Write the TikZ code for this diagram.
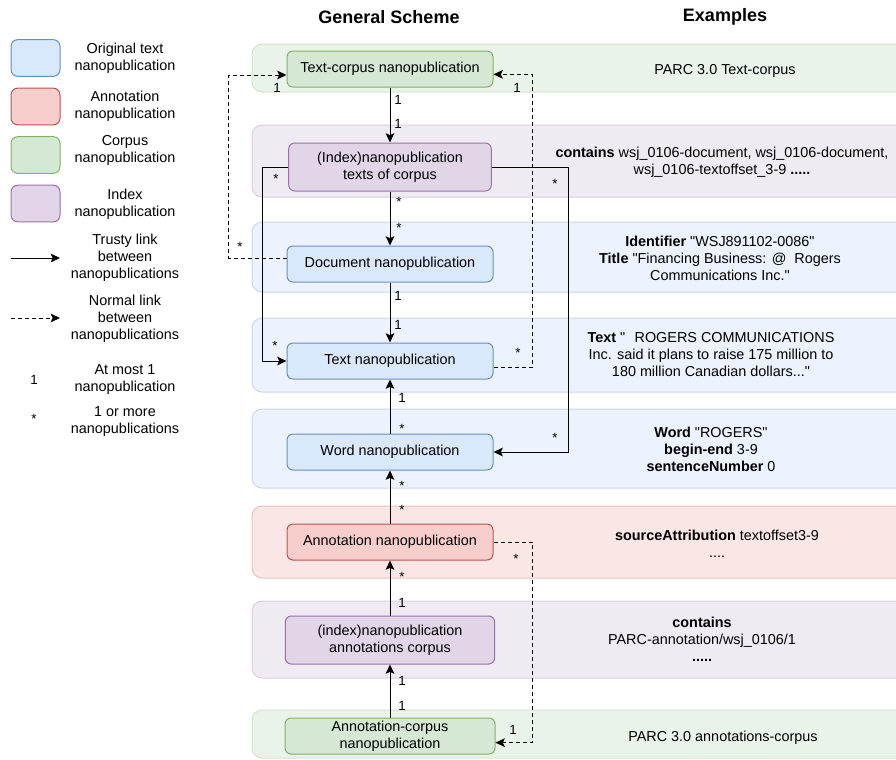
\documentclass[tikz,border=0pt]{standalone}
\usepackage{fontspec}
\setmainfont{Liberation Sans}[Ligatures=TeXOff]
\usetikzlibrary{arrows.meta}
\definecolor{bF}{HTML}{DAE8FC}\definecolor{bD}{HTML}{6C8EBF}
\definecolor{rF}{HTML}{F8CECC}\definecolor{rD}{HTML}{B85450}
\definecolor{gF}{HTML}{D5E8D4}\definecolor{gD}{HTML}{82B366}
\definecolor{pF}{HTML}{E1D5E7}\definecolor{pD}{HTML}{9673A6}
\begin{document}
\begin{tikzpicture}[x=0.75pt,y=-0.75pt,
  font=\fontsize{10.8}{12.75}\selectfont,
  nbox/.style={draw, rounded corners=4.5pt, line width=0.75pt, align=center, inner sep=0pt, minimum width=154.5pt, minimum height=27pt},
  nboxt/.style={nbox, minimum height=36pt},
  lbox/.style={draw, rounded corners=5pt, line width=0.75pt, minimum width=36.75pt, minimum height=27.5pt, inner sep=0pt},
  band/.style={rounded corners=7.5pt, line width=0.75pt},
  bluen/.style={fill=bF, draw=bD}, redn/.style={fill=rF, draw=rD},
  greenn/.style={fill=gF, draw=gD}, purplen/.style={fill=pF, draw=pD},
  blueb/.style={band, fill=bF!50!white, draw=bD!35!white},
  redb/.style={band, fill=rF!50!white, draw=rD!35!white},
  greenb/.style={band, fill=gF!50!white, draw=gD!35!white},
  purpleb/.style={band, fill=pF!50!white, draw=pD!35!white},
  txt/.style={align=center, inner sep=0pt},
  lbl/.style={inner sep=0pt, font=\fontsize{10}{12}\selectfont},
  trusty/.style={line width=0.75pt, -{Stealth[length=7pt,width=6.5pt,inset=1.5pt]}},
  normal/.style={trusty, dash pattern=on 3pt off 2.25pt}
]
\useasboundingbox (0,0) rectangle (896,760);
\clip (0,0) rectangle (896,760);

% titles
\node[txt, font=\bfseries\fontsize{13.5}{15}\selectfont] (t1) at (389,17) {General Scheme};
\node[txt, font=\bfseries\fontsize{13.5}{15}\selectfont] (t2) at (725,17) {Examples};

% legend
\node[lbox, bluen] (lg1) at (35.5,58) {};
\node[txt] (lg1t) at (125,58) {Original text\\nanopublication};
\node[lbox, redn] (lg2) at (35.5,106.5) {};
\node[txt] (lg2t) at (125,106.5) {Annotation\\nanopublication};
\node[lbox, greenn] (lg3) at (35.5,155) {};
\node[txt] (lg3t) at (125,150) {Corpus\\nanopublication};
\node[lbox, purplen] (lg4) at (35.5,203.5) {};
\node[txt] (lg4t) at (125,204) {Index\\nanopublication};
\coordinate (la1) at (11,258); \coordinate (la2) at (60,258);
\draw[trusty] (la1) -- (la2);
\node[txt] (lg5t) at (125,258) {Trusty link\\between\\nanopublications};
\coordinate (lb1) at (11,318); \coordinate (lb2) at (60,318);
\draw[normal] (lb1) -- (lb2);
\node[txt] (lg6t) at (125,319) {Normal link\\between\\nanopublications};
\node[lbl] (lg7) at (34,380) {1};
\node[txt] (lg7t) at (125,380) {At most 1\\nanopublication};
\node[lbl] (lg8) at (34,419) {*};
\node[txt] (lg8t) at (125,422) {1 or more\\nanopublications};

% bands
\draw[greenb]  (252,44)  rectangle (915,92);
\draw[purpleb] (252,125) rectangle (915,197);
\draw[blueb]   (252,222) rectangle (915,292);
\draw[blueb]   (252,318) rectangle (915,392);
\draw[blueb]   (252,409) rectangle (915,488);
\draw[redb]    (252,506) rectangle (915,578);
\draw[purpleb] (252,601) rectangle (915,678);
\draw[greenb]  (252,710) rectangle (915,758);

% examples
\node[txt] (e1) at (725,71) {PARC 3.0 Text-corpus};
\node[txt] (e2) at (722,162) {\textbf{contains} wsj\_0106-document, wsj\_0106-document,\\wsj\_0106-textoffset\_3-9 \textbf{.....}};
\node[txt] (e3) at (720,258) {\textbf{Identifier} "WSJ891102-0086"\\\textbf{Title} "Financing Business: @\ \ Rogers\\Communications Inc."};
\node[txt] (e4) at (711,355) {\textbf{Text} "\hspace{7pt}ROGERS COMMUNICATIONS\\Inc. said it plans to raise 175 million to\\180 million Canadian dollars..."};
\node[txt] (e5) at (711,449) {\textbf{Word} "ROGERS"\\\textbf{begin-end} 3-9\\\textbf{sentenceNumber} 0};
\node[txt] (e6) at (717,544) {\textbf{sourceAttribution} textoffset3-9\\....};
\node[txt] (e7) at (702,639) {\textbf{contains}\\PARC-annotation/wsj\_0106/1\\\textbf{.....}};
\node[txt] (e8) at (723,738) {PARC 3.0 annotations-corpus};

% main nodes
\node[nbox, greenn] (n1) at (390,69) {Text-corpus nanopublication};
\node[nboxt, purplen, minimum width=152pt] (n2) at (390,167) {(Index)nanopublication\\texts of corpus};
\node[nbox, bluen] (n3) at (390,264) {Document nanopublication};
\node[nbox, bluen] (n4) at (390,361) {Text nanopublication};
\node[nbox, bluen] (n5) at (390,452) {Word nanopublication};
\node[nbox, redn] (n6) at (390,542) {Annotation nanopublication};
\node[nboxt, purplen, minimum width=157pt] (n7) at (390,640) {(index)nanopublication\\annotations corpus};
\node[nbox, greenn, minimum width=157.5pt] (n8) at (390,736) {Annotation-corpus\\nanopublication};

% vertical trusty links
\draw[trusty] (n1) -- (n2);
\node[lbl] at (398,100) {1}; \node[lbl] at (398,124) {1};
\draw[trusty] (n2) -- (n3);
\node[lbl] at (399,202) {*}; \node[lbl] at (399,228) {*};
\draw[trusty] (n3) -- (n4);
\node[lbl] at (398,296) {1}; \node[lbl] at (398,325) {1};
\draw[trusty] (n5) -- (n4);
\node[lbl] at (402,398) {1}; \node[lbl] at (402,429) {*};
\draw[trusty] (n6) -- (n5);
\node[lbl] at (402,486) {*}; \node[lbl] at (402,510) {*};
\draw[trusty] (n7) -- (n6);
\node[lbl] at (402,577) {*}; \node[lbl] at (402,603) {1};
\draw[trusty] (n8) -- (n7);
\node[lbl] at (402,681) {1}; \node[lbl] at (402,706) {1};

% orthogonal trusty links
\draw[trusty] (n2.west) -- ++(-26,0) |- (n4.west);
\node[lbl] at (276,179) {*}; \node[lbl] at (275,346) {*};
\draw[trusty] (n2.east) -- ++(77,0) |- (n5.east);
\node[lbl] at (555,184) {*}; \node[lbl] at (555,438) {*};

% normal links
\draw[normal] ([yshift=4.5pt]n3.west) -- ++(-58,0) |- ([yshift=-4.5pt]n1.west);
\node[lbl] at (240,247) {*}; \node[lbl] at (277,88) {1};
\draw[normal] ([yshift=-4.5pt]n4.east) -- ++(39,0) |- ([yshift=-4pt]n1.east);
\node[lbl] at (518,353) {*}; \node[lbl] at (517,88) {1};
\draw[normal] (n6.east) -- ++(39,0) |- ([yshift=-5pt]n8.east);
\node[lbl] at (516,559) {*}; \node[lbl] at (513,730) {1};
\end{tikzpicture}
\end{document}
